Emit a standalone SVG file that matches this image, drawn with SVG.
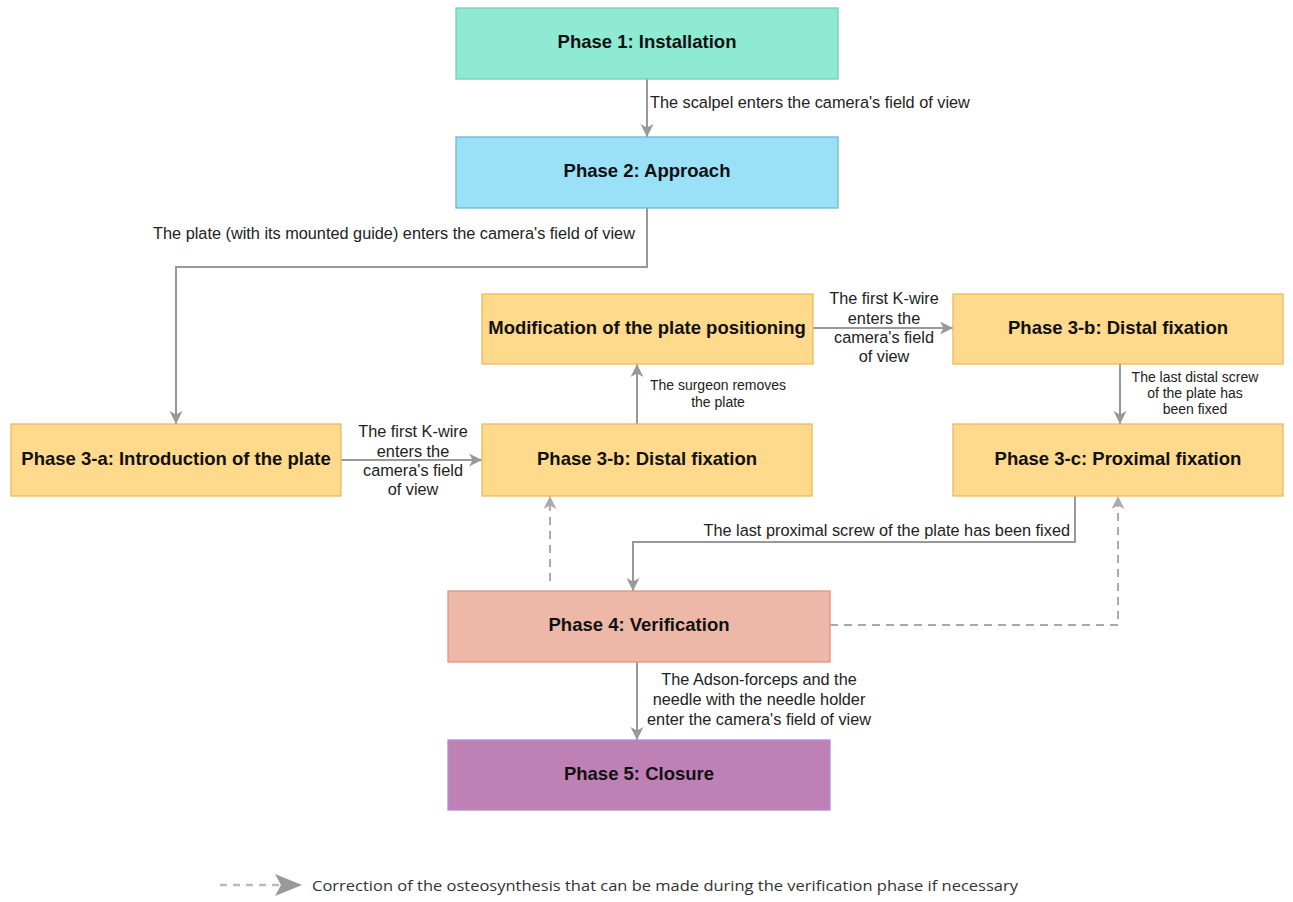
<svg xmlns="http://www.w3.org/2000/svg" width="1293" height="902" viewBox="0 0 1293 902">
<style>
.node{stroke-width:1.3}
.nl{font-family:"Liberation Sans",Arial,sans-serif;font-weight:bold;font-size:18.5px;fill:#111;text-anchor:middle}
.el{font-family:"Liberation Sans",Arial,sans-serif;font-size:16.3px;fill:#222}
.sl{font-family:"Liberation Sans",Arial,sans-serif;font-size:14px;fill:#222;text-anchor:middle}
.c{fill:none;stroke:#999;stroke-width:2}
.d{fill:none;stroke:#aaa;stroke-width:2;stroke-dasharray:8 6}
.yel{fill:#FFD98C;stroke:#EBBB5C}
</style>
<defs>
<marker id="ah" markerUnits="userSpaceOnUse" markerWidth="14" markerHeight="14" refX="13" refY="6.5" orient="auto">
<path d="M0,0 L13,6.5 L0,13 L3.5,6.5 Z" fill="#999"/>
</marker>
<marker id="ahd" markerUnits="userSpaceOnUse" markerWidth="14" markerHeight="14" refX="13" refY="6.5" orient="auto">
<path d="M0,0 L13,6.5 L0,13 L3.5,6.5 Z" fill="#aaa"/>
</marker>
</defs>
<rect width="1293" height="902" fill="#fff"/>
<g id="connectors">
<path class="c" d="M647,79 V137" marker-end="url(#ah)"/>
<path class="c" d="M647,208 V267 H176 V424" marker-end="url(#ah)"/>
<path class="c" d="M341,460 H482" marker-end="url(#ah)"/>
<path class="c" d="M637,424 V364" marker-end="url(#ah)"/>
<path class="c" d="M813,328 H953" marker-end="url(#ah)"/>
<path class="c" d="M1120,364 V424" marker-end="url(#ah)"/>
<path class="c" d="M1075,496 V542 H633 V591" marker-end="url(#ah)"/>
<path class="c" d="M637,662 V740" marker-end="url(#ah)"/>
<path class="d" d="M550,581 V496" marker-end="url(#ahd)"/>
<path class="d" d="M830,625 H1118 V496" marker-end="url(#ahd)"/>
<text class="el" x="650" y="108">The scalpel enters the camera's field of view</text>
<text class="el" x="394" y="239" text-anchor="middle">The plate (with its mounted guide) enters the camera's field of view</text>
<text class="el" text-anchor="middle"><tspan x="413" y="437">The first K-wire</tspan><tspan x="413" y="457">enters the</tspan><tspan x="413" y="476">camera's field</tspan><tspan x="413" y="495">of view</tspan></text>
<text class="el" text-anchor="middle"><tspan x="884" y="304">The first K-wire</tspan><tspan x="884" y="324">enters the</tspan><tspan x="884" y="343">camera's field</tspan><tspan x="884" y="362">of view</tspan></text>
<text class="sl"><tspan x="718" y="390">The surgeon removes</tspan><tspan x="718" y="407">the plate</tspan></text>
<text class="sl"><tspan x="1195" y="382">The last distal screw</tspan><tspan x="1195" y="398">of the plate has</tspan><tspan x="1195" y="414">been fixed</tspan></text>
<text class="el" x="1070" y="536" text-anchor="end">The last proximal screw of the plate has been fixed</text>
<text class="el" text-anchor="middle"><tspan x="759" y="685">The Adson-forceps and the</tspan><tspan x="759" y="705">needle with the needle holder</tspan><tspan x="759" y="725">enter the camera's field of view</tspan></text>
</g>
<g id="phase1"><rect class="node" x="456" y="8" width="382" height="71" fill="#8FEAD3" stroke="#78CDB6"/><text class="nl" x="647" y="48">Phase 1: Installation</text></g>
<g id="phase2"><rect class="node" x="456" y="137" width="382" height="71" fill="#9AE0F7" stroke="#6DB8D3"/><text class="nl" x="647" y="177">Phase 2: Approach</text></g>
<g id="phase3a"><rect class="node yel" x="11" y="424" width="330" height="72"/><text class="nl" x="176" y="464.5">Phase 3-a: Introduction of the plate</text></g>
<g id="modification"><rect class="node yel" x="482" y="294" width="331" height="70"/><text class="nl" x="647" y="333.5">Modification of the plate positioning</text></g>
<g id="phase3b-mid"><rect class="node yel" x="482" y="424" width="330" height="72"/><text class="nl" x="647" y="464.5">Phase 3-b: Distal fixation</text></g>
<g id="phase3b-right"><rect class="node yel" x="953" y="294" width="330" height="70"/><text class="nl" x="1118" y="333.5">Phase 3-b: Distal fixation</text></g>
<g id="phase3c"><rect class="node yel" x="953" y="424" width="330" height="72"/><text class="nl" x="1118" y="464.5">Phase 3-c: Proximal fixation</text></g>
<g id="phase4"><rect class="node" x="448" y="591" width="382" height="71" fill="#EDB8A8" stroke="#E3937E"/><text class="nl" x="639" y="630.5">Phase 4: Verification</text></g>
<g id="phase5"><rect class="node" x="448" y="740" width="382" height="70" fill="#BE80B5" stroke="#B08ED8"/><text class="nl" x="639" y="779.5">Phase 5: Closure</text></g>
<g id="legend">
<path d="M220,885 H280" fill="none" stroke="#bbb" stroke-width="2.5" stroke-dasharray="7 6"/>
<path d="M275,874 L302,885 L275,896 L281,885 Z" fill="#999"/>
<text x="312" y="891" font-family="'Open Sans',sans-serif" font-size="15" fill="#333" textLength="706" lengthAdjust="spacingAndGlyphs">Correction of the osteosynthesis that can be made during the verification phase if necessary</text>
</g>
</svg>
